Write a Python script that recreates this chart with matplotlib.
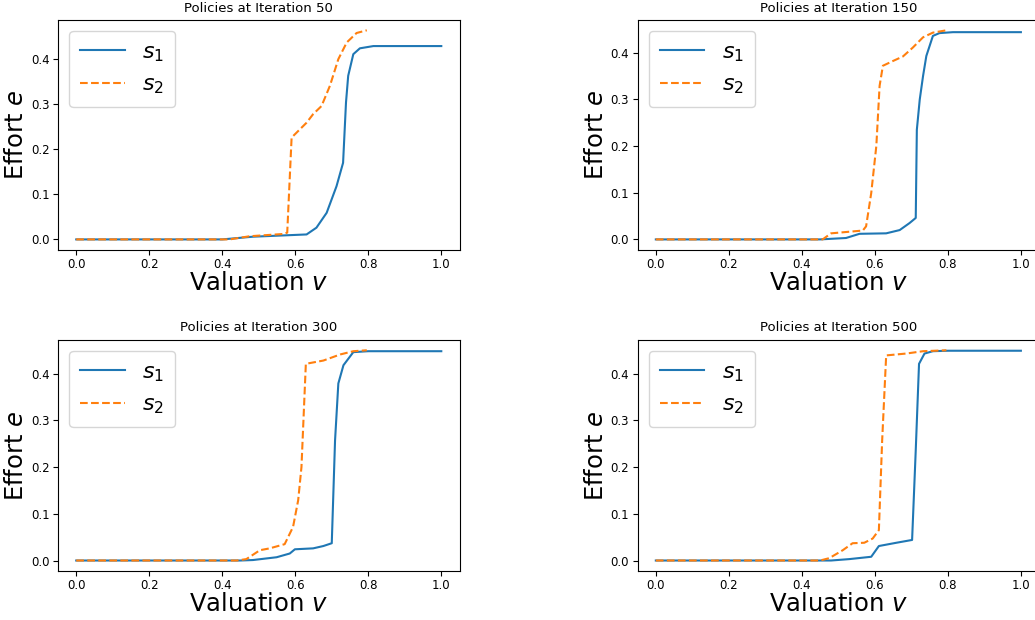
import numpy as np
import matplotlib.pyplot as plt

# Iteration 50
v1_50 = [0.0, 0.40, 0.484, 0.631, 0.658, 0.686, 0.713, 0.731, 0.739, 0.745, 0.759, 0.777, 0.814, 0.9, 1.0]
s1_50 = [0.0, 0.0, 0.006, 0.011, 0.026, 0.059, 0.118, 0.170, 0.304, 0.363, 0.411, 0.424, 0.429, 0.429, 0.429]
v2_50 = [0.0, 0.42, 0.475, 0.566, 0.578, 0.590, 0.631, 0.649, 0.672, 0.695, 0.718, 0.741, 0.768, 0.796]
s2_50 = [0.0, 0.0, 0.007, 0.012, 0.015, 0.226, 0.259, 0.278, 0.296, 0.341, 0.400, 0.437, 0.458, 0.464]

# Iteration 150
v1_150 = [0.0, 0.45, 0.521, 0.558, 0.631, 0.668, 0.695, 0.712, 0.715, 0.723, 0.732, 0.741, 0.759, 0.777, 0.814, 1.0]
s1_150 = [0.0, 0.0, 0.003, 0.012, 0.013, 0.020, 0.035, 0.046, 0.235, 0.300, 0.350, 0.393, 0.436, 0.442, 0.444, 0.444]
v2_150 = [0.0, 0.457, 0.48, 0.567, 0.576, 0.590, 0.604, 0.613, 0.622, 0.649, 0.677, 0.704, 0.732, 0.759, 0.796]
s2_150 = [0.0, 0.0, 0.013, 0.019, 0.028, 0.099, 0.200, 0.329, 0.372, 0.382, 0.392, 0.411, 0.433, 0.443, 0.448]

# Iteration 300
v1_300 = [0.0, 0.45, 0.484, 0.549, 0.585, 0.599, 0.649, 0.677, 0.700, 0.709, 0.718, 0.732, 0.759, 0.8, 1.0]
s1_300 = [0.0, 0.0, 0.001, 0.007, 0.015, 0.024, 0.026, 0.031, 0.037, 0.257, 0.379, 0.418, 0.446, 0.448, 0.448]
v2_300 = [0.0, 0.44, 0.466, 0.503, 0.530, 0.571, 0.594, 0.608, 0.617, 0.629, 0.677, 0.723, 0.759, 0.796]
s2_300 = [0.0, 0.0, 0.003, 0.022, 0.026, 0.035, 0.072, 0.129, 0.200, 0.421, 0.428, 0.441, 0.448, 0.450]

# Iteration 500
v1_500 = [0.0, 0.48, 0.530, 0.590, 0.611, 0.659, 0.702, 0.712, 0.721, 0.736, 0.759, 0.8, 1.0]
s1_500 = [0.0, 0.0, 0.003, 0.008, 0.031, 0.038, 0.044, 0.236, 0.421, 0.443, 0.448, 0.449, 0.449]
v2_500 = [0.0, 0.45, 0.475, 0.512, 0.539, 0.571, 0.594, 0.611, 0.620, 0.631, 0.686, 0.732, 0.796]
s2_500 = [0.0, 0.0, 0.005, 0.022, 0.037, 0.038, 0.047, 0.065, 0.257, 0.439, 0.443, 0.448, 0.450]

iterations = [50, 150, 300, 500]
s1_data = [(v1_50, s1_50), (v1_150, s1_150), (v1_300, s1_300), (v1_500, s1_500)]
s2_data = [(v2_50, s2_50), (v2_150, s2_150), (v2_300, s2_300), (v2_500, s2_500)]

fig = plt.figure(figsize=(10.35, 6.2), dpi=100)
positions = [
    [0.056, 0.597, 0.388, 0.371],
    [0.616, 0.597, 0.388, 0.371],
    [0.056, 0.079, 0.388, 0.373],
    [0.616, 0.079, 0.388, 0.373],
]

for i, it in enumerate(iterations):
    ax = fig.add_axes(positions[i])
    ax.plot(s1_data[i][0], s1_data[i][1], color='C0', label='$s_1$')
    ax.plot(s2_data[i][0], s2_data[i][1], color='C1', linestyle='--', label='$s_2$')
    ax.set_title(f'Policies at Iteration {it}', fontsize=9.5)
    ax.set_xlabel('Valuation $v$', fontsize=17.5, labelpad=0)
    ax.set_ylabel('Effort $e$', fontsize=17.5, labelpad=2)
    ax.tick_params(labelsize=8.5, pad=2.5)
    ax.legend(fontsize=16, loc='upper left', borderpad=0.5)

fig.savefig('out.png', dpi=100)
